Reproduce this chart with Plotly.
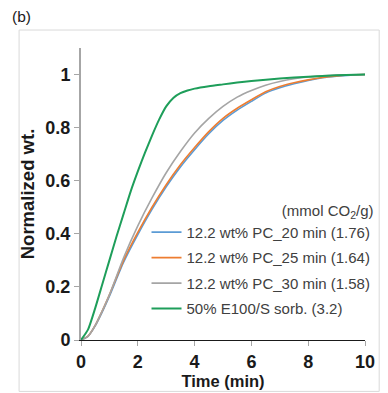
import plotly.graph_objects as go

t_pc = [0, 0.25, 0.5, 0.75, 1, 1.5, 2, 2.5, 3, 3.5, 4, 4.5, 5, 5.5, 6, 6.5, 7, 7.5, 8, 8.5, 9, 9.5, 10]
pc20 = [0, 0.014, 0.053, 0.106, 0.165, 0.293, 0.397, 0.492, 0.577, 0.652, 0.717, 0.777, 0.827, 0.866, 0.899, 0.93, 0.95, 0.965, 0.978, 0.988, 0.994, 0.998, 1.0]
pc25 = [0, 0.015, 0.055, 0.11, 0.17, 0.30, 0.405, 0.50, 0.585, 0.66, 0.725, 0.785, 0.835, 0.873, 0.905, 0.935, 0.955, 0.969, 0.98, 0.989, 0.995, 0.999, 1.0]
pc30 = [0, 0.015, 0.055, 0.11, 0.17, 0.31, 0.43, 0.535, 0.63, 0.71, 0.78, 0.835, 0.88, 0.915, 0.94, 0.96, 0.974, 0.984, 0.991, 0.995, 0.998, 0.9995, 1.0]

t_e100 = [0, 0.25, 0.5, 0.75, 1, 1.25, 1.5, 1.75, 2, 2.25, 2.5, 2.75, 3, 3.25, 3.5, 3.75, 4, 4.5, 5, 5.5, 6, 7, 8, 9, 10]
e100 = [0, 0.04, 0.12, 0.21, 0.30, 0.39, 0.475, 0.56, 0.635, 0.705, 0.77, 0.83, 0.88, 0.912, 0.93, 0.94, 0.947, 0.956, 0.963, 0.97, 0.976, 0.985, 0.992, 0.997, 1.0]

names = ["12.2 wt% PC_20 min (1.76)", "12.2 wt% PC_25 min (1.64)",
         "12.2 wt% PC_30 min (1.58)", "50% E100/S sorb. (3.2)"]
colors = ["#5B9BD5", "#ED7D31", "#A5A5A5", "#1E9E5A"]
widths = [1.6, 1.6, 1.6, 2.0]

x_ticks = [0, 2, 4, 6, 8, 10]
y_ticks = [0, 0.2, 0.4, 0.6, 0.8, 1]
y_labels = ["0", "0.2", "0.4", "0.6", "0.8", "1"]

series = [(t_pc, pc20), (t_pc, pc25), (t_pc, pc30), (t_e100, e100)]

FONT = "Liberation Sans, Arial, sans-serif"

fig = go.Figure()
for i, ((tx, ty), nm, c, w) in enumerate(zip(series, names, colors, widths)):
    fig.add_trace(go.Scatter(x=tx, y=ty, mode="lines", name=nm,
                             line=dict(color=c, width=w, shape="spline", smoothing=0.6),
                             legendgroup=str(i)))

fig.update_layout(
    width=388, height=393,
    margin=dict(l=81, r=13, t=48, b=52.5),
    paper_bgcolor="white", plot_bgcolor="white",
    font=dict(family=FONT, color="#1a1a1a"),
    showlegend=True,
    legend=dict(x=1.037, xanchor="right", y=0.492, yanchor="top",
                bgcolor="rgba(0,0,0,0)", itemwidth=30, tracegroupgap=3,
                font=dict(size=15, color="#404040", family=FONT),
                title=dict(text="(mmol CO<sub>2</sub>/g)", side="top right",
                           font=dict(size=15, color="#404040", family=FONT))),
    xaxis=dict(range=[0, 10], tickvals=x_ticks, ticktext=["<b>%d</b>" % v for v in x_ticks],
               showgrid=False, zeroline=False, automargin=False,
               showline=True, linecolor="#1a1a1a", linewidth=1.2,
               ticks="outside", ticklen=5, tickcolor="#A6A6A6",
               ticklabelstandoff=0,
               tickfont=dict(size=18, family=FONT, color="#1a1a1a"),
               title=dict(text="<b>Time (min)</b>", standoff=3,
                          font=dict(size=16.5, family=FONT))),
    yaxis=dict(range=[0, 1.1], tickvals=y_ticks, ticktext=["<b>%s</b>" % s for s in y_labels],
               showgrid=False, zeroline=False, automargin=False,
               showline=True, linecolor="#A6A6A6", linewidth=2,
               ticks="outside", ticklen=5, tickcolor="#A6A6A6",
               tickfont=dict(size=18, family=FONT, color="#1a1a1a"),
               title=dict(text="<b>Normalized wt.</b>", standoff=6,
                          font=dict(size=18.5, family=FONT))),
)

fig.add_shape(type="rect", xref="paper", yref="paper",
              x0=-0.218, x1=1.05, y0=-0.176, y1=1.0615,
              line=dict(color="#D9D9D9", width=1), layer="below")
fig.add_annotation(text="(b)", xref="paper", yref="paper", x=-0.25, y=1.107,
                   xanchor="left", yanchor="middle", showarrow=False,
                   font=dict(size=15.5, color="#1a1a1a", family=FONT))

fig.write_html("out.html", config={"displayModeBar": False},
               post_script="document.body.style.margin='0';")
